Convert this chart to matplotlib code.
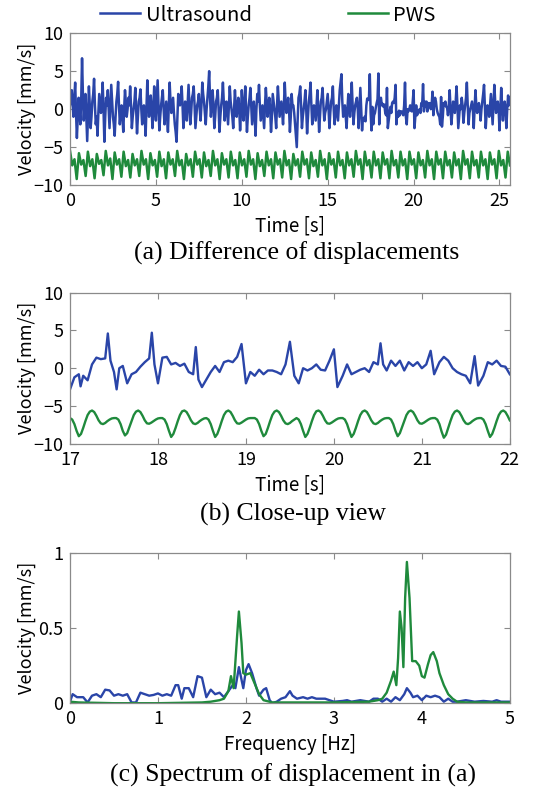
import numpy as np
from matplotlib import pyplot as plt

plt.rcParams['font.family'] = ['Noto Sans CJK JP', 'DejaVu Sans']

c_us = '#2a45a8'   # ultrasound (blue)
c_pws = '#1f8a3c'  # PWS (green)

# (a) full record, ultrasound sampled every 0.05 s (one row = 1 s)
us_a = [0.5, 1.2, 2.5, 0.8, -1.0, 1.5, 3.5, -0.5, -3.8, -1.0, 1.5, 0.0, -2.0, 1.0, 6.7, 2.0, -1.5, 0.5, 2.0, -1.0,
        -4.2, -0.5, 3.0, 0.5, -2.5, -1.0, 1.0, 2.0, 4.0, 0.5, -2.0, -1.0, -3.5, -0.5, 2.0, 0.8, -0.5, 1.0, 3.5, 0.0,
        -4.3, -1.0, 1.5, 0.5, 2.5, 0.0, -2.5, 0.5, 3.2, 1.0, -1.0, -2.0, -3.5, -1.0, 1.0, 2.0, 3.6, 0.5, -2.0, -0.5,
        0.5, -1.0, -3.0, 0.0, 2.5, 1.0, -1.0, 0.0, 1.5, 0.5, 3.0, 0.5, -2.5, -1.0, 0.0, 1.0, 2.8, 0.0, -3.2, -1.0,
        1.0, 1.5, 2.6, 0.0, -2.0, -0.5, 0.5, -1.0, -3.5, 0.0, 3.8, 1.0, -1.0, 0.5, 1.8, 0.0, -2.5, 0.0, 3.0, 0.5,
        -1.5, 1.0, 3.8, 0.5, -2.8, -1.0, 0.5, 1.5, 2.5, 0.0, -2.0, -0.5, 1.0, -1.0, -3.0, 0.5, 3.5, 1.0, -0.5, 0.5,
        1.5, -0.5, -2.0, -3.0, -4.3, -1.0, 2.0, 1.0, 0.5, 1.5, 3.0, 0.5, -2.5, -1.0, 1.0, 0.0, -1.5, 1.0, 3.2, 0.5,
        -2.0, -0.5, 1.5, 2.0, 3.0, 0.5, -2.5, -1.0, 0.5, 1.0, 2.0, 0.0, -1.5, 0.5, 3.5, 2.0, 1.0, -0.5, -2.0, 0.0,
        1.5, 3.0, 5.0, 1.5, -1.0, 0.5, 2.5, 0.5, -2.5, -1.0, 1.0, 1.5, 2.5, 0.0, -3.0, -1.0, 0.5, 1.5, 3.5, 1.0,
        -1.5, 0.0, 1.0, -0.5, -2.0, 0.5, 3.0, 1.0, 0.0, -1.0, -2.5, 0.0, 2.5, 0.5, -1.0, 0.5, 1.5, 0.0, -2.8, -0.5,
        2.5, 0.5, -1.5, 0.5, 3.0, 0.0, -3.0, -1.0, 0.5, 1.5, 2.8, 0.5, -2.0, -0.5, 1.0, -1.0, -3.5, 0.0, 2.0, 1.0,
        3.2, 0.5, -1.5, -0.5, 0.5, -1.0, -2.5, 0.5, 2.8, 1.0, -1.0, 0.5, 1.5, 0.0, -3.0, -1.0, 2.0, 1.0, 0.0, -1.0,
        -2.5, 0.5, 3.0, 1.0, -1.0, 0.0, 1.0, -0.5, -2.0, 0.5, 3.5, 1.0, -0.5, 0.5, 1.5, 0.0, -3.0, -1.0, 2.0, 0.5,
        0.5, -0.5, -2.0, -3.5, -5.0, -1.5, 1.5, 2.0, 3.0, 0.5, -2.5, -1.0, 0.0, 1.0, 2.5, 0.0, -3.2, -1.0, 1.0, 2.0,
        3.5, 0.5, -2.0, -0.5, 0.5, -0.5, -1.5, 0.5, 2.5, 0.0, -3.0, -1.0, 1.0, 1.5, 2.8, 0.5, -1.5, -0.5, 0.0, 1.0,
        2.0, 0.0, -2.5, -0.5, 1.0, 1.5, 3.0, 0.0, -2.0, -0.5, 0.5, -0.5, -1.5, 0.5, 2.5, 3.5, 4.6, 1.0, -1.0, 0.0,
        0.5, -1.0, -2.5, 0.0, 2.0, 0.5, -1.0, 1.0, 3.5, 0.5, -2.0, -0.5, 0.5, 1.0, 1.5, 0.0, -2.5, 0.0, 2.8, 0.0,
        -2.8, -1.2, -1.5, -1.0, -1.6, 0.5, 1.4, 1.2, 1.3, 4.6, -0.5, -2.8, 0.3, -2.0, -0.8, -0.5, 0.2, 0.8, 1.3, 4.7,
        -2.0, 1.4, 1.5, 0.5, 0.7, 0.3, 0.6, -0.5, -0.8, 2.8, -2.5, -1.5, -0.5, 0.3, -0.5, 0.8, 1.0, 0.8, 1.5, 3.2,
        -2.0, -0.5, -1.0, -0.2, -0.8, -0.3, -0.3, -0.5, -0.8, 0.5, 3.5, -1.0, -2.0, 0.0, -0.3, 0.0, 0.5, -0.2, -0.3, 1.0,
        2.5, -2.5, -1.0, 0.5, -0.8, -0.5, -0.2, 0.0, -0.5, 0.8, 0.5, 3.3, -0.3, 1.0, 0.3, 1.0, -0.3, 0.8, 0.3, 0.8,
        0.0, 0.5, 2.3, -0.8, 0.8, 1.5, 1.0, 0.0, -0.5, -0.8, -1.0, -2.0, 1.6, -2.3, -1.0, 0.8, 0.5, 1.0, 0.3, 0.2,
        -0.8, 0.5, 2.5, 0.0, -2.0, -0.5, 1.0, 0.0, -0.5, 1.0, 3.0, 0.5, -2.5, -1.0, 0.5, 0.0, 1.5, 0.5, -1.8, -0.5,
        0.5, 1.5, 3.5, 0.5, -2.0, -0.5, 0.0, 0.5, 1.0, 0.0, -2.5, 0.0, 2.5, 0.5, -0.5, 0.5, 0.8, 0.0, -1.5, 0.0,
        1.0, 2.0, 3.2, 0.5, -2.5, -0.5, 0.5, 0.0, -1.0, 0.5, 2.0, 0.0, -2.0, 0.5, 3.2, 1.0, -0.5, 0.0, 1.0, 0.0,
        -2.8, 0.0, 2.8, 0.5, -1.5, 0.0, 1.0, 0.0, -2.5, 0.0, 1.8, 0.5, 1.5]

# (a) PWS sampled every 0.13 s: peak, dip, plateau, trough
pws_a = [-5.5, -7.4, -6.6, -9.2, -5.8, -7.3, -6.7, -8.8,
         -5.6, -7.5, -6.6, -9.1, -5.9, -7.2, -6.7, -8.7,
         -5.5, -7.4, -6.5, -9.2, -5.7, -7.3, -6.6, -8.9,
         -5.6, -7.5, -6.7, -9.0, -5.9, -7.4, -6.6, -8.8,
         -5.5, -7.3, -6.6, -9.2, -5.8, -7.4, -6.7, -8.9,
         -5.6, -7.5, -6.6, -9.1, -5.7, -7.3, -6.6, -8.8,
         -5.5, -7.4, -6.7, -9.2, -5.9, -7.4, -6.6, -8.9,
         -5.6, -7.3, -6.6, -9.0, -5.7, -7.5, -6.7, -8.8,
         -5.5, -7.4, -6.6, -9.2, -5.8, -7.3, -6.6, -9.0,
         -5.6, -7.4, -6.7, -9.1, -5.7, -7.4, -6.6, -8.9,
         -5.5, -7.3, -6.6, -9.2, -5.8, -7.5, -6.7, -8.8,
         -5.6, -7.4, -6.6, -9.1, -5.7, -7.3, -6.6, -9.0,
         -5.5, -7.4, -6.7, -9.2, -5.9, -7.4, -6.6, -8.9,
         -5.6, -7.3, -6.6, -9.1, -5.7, -7.5, -6.7, -8.9,
         -5.5, -7.4, -6.6, -9.2, -5.8, -7.3, -6.6, -9.0,
         -5.6, -7.4, -6.7, -9.1, -5.7, -7.4, -6.6, -8.9,
         -5.5, -7.3, -6.6, -9.2, -5.6, -7.4, -6.7, -9.0,
         -5.6, -7.4, -6.6, -9.1, -5.7, -7.3, -6.6, -9.1,
         -5.5, -7.4, -6.7, -9.0, -5.6, -7.4, -6.6, -9.2,
         -5.6, -7.3, -6.6, -9.1, -5.7, -7.4, -6.7, -9.0,
         -5.5, -7.4, -6.6, -9.2, -5.6, -7.3, -6.6, -9.1,
         -5.6, -7.4, -6.7, -9.0, -5.7, -7.4, -6.6, -9.2,
         -5.5, -7.3, -6.6, -9.1, -5.6, -7.4, -6.7, -9.0,
         -5.6, -7.4, -6.6, -9.2, -5.7, -7.3, -6.6, -9.1,
         -5.5, -7.4, -6.7, -9.0, -5.6, -7.4]

# (b) close-up 17-22 s, ultrasound
t_b_us = [17.00, 17.05, 17.10, 17.12, 17.15, 17.20, 17.25, 17.30, 17.35, 17.40,
          17.43, 17.46, 17.50, 17.53, 17.56, 17.60, 17.65, 17.70, 17.75, 17.80,
          17.85, 17.90, 17.93, 17.96, 18.00, 18.05, 18.10, 18.15, 18.20, 18.25,
          18.30, 18.35, 18.40, 18.43, 18.46, 18.50, 18.55, 18.60, 18.65, 18.70,
          18.75, 18.80, 18.85, 18.90, 18.95, 19.00, 19.05, 19.10, 19.15, 19.20,
          19.25, 19.30, 19.35, 19.40, 19.45, 19.50, 19.55, 19.60, 19.65, 19.70,
          19.75, 19.80, 19.85, 19.90, 19.95, 20.00, 20.04, 20.10, 20.15, 20.20,
          20.25, 20.30, 20.35, 20.40, 20.45, 20.50, 20.53, 20.56, 20.60, 20.65,
          20.70, 20.75, 20.80, 20.85, 20.90, 20.95, 21.00, 21.05, 21.10, 21.14,
          21.20, 21.25, 21.30, 21.35, 21.40, 21.45, 21.50, 21.55, 21.60, 21.64,
          21.70, 21.75, 21.80, 21.85, 21.90, 21.95, 22.00]
us_b = [-2.8, -1.2, -0.8, -2.4, -1.0, -1.6, 0.5, 1.4, 1.2, 1.3,
        4.6, 1.0, -0.5, -2.8, 0.0, 0.3, -2.0, -0.8, -0.5, 0.2,
        0.8, 1.3, 4.7, 0.5, -2.0, 1.4, 1.5, 0.5, 0.7, 0.3,
        0.6, -0.5, -0.8, 2.8, -1.5, -2.5, -1.5, -0.5, 0.3, -0.5,
        0.8, 1.0, 0.8, 1.5, 3.2, -2.0, -0.5, -1.0, -0.2, -0.8,
        -0.3, -0.3, -0.5, -0.8, 0.5, 3.5, -1.0, -2.0, 0.0, -0.3,
        0.0, 0.5, -0.2, -0.3, 1.0, 2.5, -2.5, -1.0, 0.5, -0.8,
        -0.5, -0.2, 0.0, -0.5, 0.8, 0.5, 3.3, 0.5, -0.3, 1.0,
        0.3, 1.0, -0.3, 0.8, 0.3, 0.8, 0.0, 0.5, 2.3, -0.8,
        0.8, 1.5, 1.0, 0.0, -0.5, -0.8, -1.0, -2.0, 1.6, -2.3,
        -1.0, 0.8, 0.5, 1.0, 0.3, 0.2, -0.8]

# (b) close-up, PWS sampled every 0.025 s
pws_b = [-6.6, -6.8, -7.4, -8.3,
         -9.0, -8.7, -7.9, -7.0, -6.2, -5.75, -5.6, -5.8, -6.3, -6.9, -7.3,
         -7.4, -7.25, -7.0, -6.8, -6.65, -6.6, -6.6, -6.8, -7.4, -8.3,
         -8.9, -8.6, -7.8, -7.0, -6.2, -5.75, -5.6, -5.8, -6.3, -6.9, -7.3,
         -7.35, -7.2, -7.0, -6.8, -6.65, -6.6, -6.6, -6.8, -7.4, -8.3,
         -9.1, -8.7, -7.9, -7.0, -6.2, -5.7, -5.6, -5.8, -6.3, -6.9, -7.3,
         -7.4, -7.25, -7.0, -6.8, -6.65, -6.6, -6.8, -7.4, -8.3,
         -9.1, -8.7, -7.9, -7.0, -6.2, -5.75, -5.6, -5.8, -6.3, -6.9, -7.3,
         -7.35, -7.2, -7.0, -6.8, -6.65, -6.6, -6.6, -6.6, -6.8, -7.4, -8.3,
         -9.0, -8.7, -7.9, -7.0, -6.2, -5.75, -5.6, -5.8, -6.3, -6.9, -7.3,
         -7.4, -7.25, -7.0, -6.8, -6.6, -6.8, -7.4, -8.3,
         -9.1, -8.7, -7.9, -7.0, -6.2, -5.7, -5.6, -5.8, -6.3, -6.9, -7.3,
         -7.35, -7.2, -7.0, -6.8, -6.65, -6.6, -6.6, -6.8, -7.4, -8.3,
         -9.1, -8.7, -7.9, -7.0, -6.2, -5.75, -5.6, -5.8, -6.3, -6.9, -7.3,
         -7.4, -7.25, -7.0, -6.8, -6.65, -6.6, -6.6, -6.8, -7.4, -8.3,
         -9.0, -8.6, -7.8, -7.0, -6.2, -5.75, -5.6, -5.8, -6.3, -6.9, -7.3,
         -7.35, -7.2, -7.0, -6.8, -6.65, -6.6, -6.6, -6.8, -7.4, -8.4,
         -9.2, -8.8, -7.9, -7.0, -6.2, -5.75, -5.6, -5.8, -6.3, -6.9, -7.3,
         -7.4, -7.25, -7.0, -6.8, -6.65, -6.6, -6.6, -6.8, -7.4, -8.3,
         -9.1, -8.7, -7.9, -7.0, -6.2, -5.75, -5.6, -5.8, -6.3, -6.9]

# (c) spectrum
f_us = [0.00, 0.03, 0.08, 0.15, 0.20, 0.25, 0.30, 0.35, 0.40, 0.45,
        0.50, 0.55, 0.60, 0.65, 0.70, 0.75, 0.80, 0.85, 0.90, 0.95,
        1.00, 1.05, 1.10, 1.15, 1.20, 1.23, 1.27, 1.30, 1.35, 1.40,
        1.45, 1.50, 1.55, 1.60, 1.65, 1.70, 1.75, 1.80, 1.85, 1.88,
        1.92, 1.97, 2.00, 2.03, 2.07, 2.12, 2.15, 2.20, 2.23, 2.27,
        2.30, 2.35, 2.40, 2.45, 2.50, 2.53, 2.58, 2.65, 2.70, 2.75,
        2.80, 2.90, 2.95, 3.00, 3.10, 3.15, 3.20, 3.30, 3.40, 3.45,
        3.50, 3.55, 3.60, 3.65, 3.70, 3.75, 3.80, 3.83, 3.87, 3.90,
        3.95, 4.00, 4.05, 4.10, 4.15, 4.20, 4.25, 4.30, 4.35, 4.40,
        4.50, 4.60, 4.70, 4.80, 4.85, 4.90, 5.00]
spec_us = [0.01, 0.06, 0.04, 0.04, 0.005, 0.05, 0.06, 0.04, 0.09, 0.085,
           0.05, 0.06, 0.05, 0.06, 0.005, 0.005, 0.07, 0.06, 0.05, 0.055,
           0.065, 0.05, 0.06, 0.05, 0.12, 0.12, 0.03, 0.10, 0.10, 0.04,
           0.18, 0.17, 0.04, 0.09, 0.06, 0.07, 0.04, 0.08, 0.12, 0.10,
           0.24, 0.10, 0.22, 0.26, 0.20, 0.10, 0.05, 0.09, 0.10, 0.02,
           0.0, 0.01, 0.03, 0.04, 0.08, 0.05, 0.03, 0.04, 0.03, 0.04,
           0.03, 0.03, 0.02, 0.01, 0.015, 0.02, 0.01, 0.02, 0.01, 0.03,
           0.03, 0.01, 0.03, 0.01, 0.04, 0.02, 0.06, 0.10, 0.07, 0.04,
           0.05, 0.02, 0.05, 0.04, 0.05, 0.04, 0.01, 0.03, 0.01, 0.01,
           0.02, 0.01, 0.015, 0.01, 0.02, 0.01, 0.01]

f_pws = [0.00, 0.10, 0.50, 1.00, 1.50, 1.60, 1.70, 1.75, 1.80, 1.83,
         1.86, 1.90, 1.92, 1.95, 1.97, 2.00, 2.05, 2.10, 2.15, 2.20,
         2.30, 2.50, 3.00, 3.40, 3.50, 3.55, 3.60, 3.65, 3.68, 3.71,
         3.73, 3.75, 3.77, 3.79, 3.81, 3.83, 3.86, 3.89, 3.93, 3.97,
         4.00, 4.03, 4.07, 4.10, 4.13, 4.17, 4.20, 4.25, 4.30, 4.35,
         4.40, 4.50, 4.70, 5.00]
spec_pws = [0.01, 0.005, 0.0, 0.0, 0.005, 0.01, 0.02, 0.03, 0.08, 0.18,
            0.10, 0.45, 0.61, 0.40, 0.20, 0.19, 0.20, 0.13, 0.06, 0.02,
            0.005, 0.005, 0.005, 0.01, 0.02, 0.03, 0.07, 0.15, 0.21, 0.12,
            0.30, 0.61, 0.50, 0.24, 0.70, 0.94, 0.70, 0.28, 0.28, 0.25,
            0.18, 0.17, 0.26, 0.32, 0.34, 0.28, 0.20, 0.12, 0.06, 0.03,
            0.01, 0.005, 0.005, 0.005]

t_a_us = np.arange(len(us_a)) * 0.05
t_a_pws = np.arange(len(pws_a)) * 0.13
t_b_pws = 17 + np.arange(len(pws_b)) * 0.025

fig = plt.figure(figsize=(5.47, 7.91), dpi=100)
left, width = 0.128, 0.804
ax_a = fig.add_axes([left, 0.766, width, 0.192])
ax_b = fig.add_axes([left, 0.439, width, 0.191])
ax_c = fig.add_axes([left, 0.111, width, 0.190])

def style(ax):
    for s in ax.spines.values():
        s.set_color('#8a8a8a')
        s.set_linewidth(0.9)
    ax.tick_params(direction='in', length=4, width=0.8, color='#8a8a8a',
                   top=True, right=True, labelsize=13, pad=5)
    ax.yaxis.set_label_coords(-0.078, 0.5)

lw = 1.7
l1, = ax_a.plot(t_a_us, us_a, color=c_us, lw=1.8, label='Ultrasound')
l2, = ax_a.plot(t_a_pws, pws_a, color=c_pws, lw=1.8, label='PWS')
ax_a.set_xlim(0, 25.6)
ax_a.set_ylim(-10, 10)
ax_a.set_xticks([0, 5, 10, 15, 20, 25])
ax_a.set_yticks([-10, -5, 0, 5, 10])
ax_a.set_xlabel('Time [s]', fontsize=13.5, labelpad=4)
ax_a.set_ylabel('Velocity [mm/s]', fontsize=13)

ax_b.plot(t_b_us, us_b, color=c_us, lw=lw)
ax_b.plot(t_b_pws, pws_b, color=c_pws, lw=lw)
ax_b.set_xlim(17, 22)
ax_b.set_ylim(-10, 10)
ax_b.set_xticks([17, 18, 19, 20, 21, 22])
ax_b.set_yticks([-10, -5, 0, 5, 10])
ax_b.set_xlabel('Time [s]', fontsize=13.5, labelpad=4)
ax_b.set_ylabel('Velocity [mm/s]', fontsize=13)

ax_c.plot(f_us, spec_us, color=c_us, lw=lw)
ax_c.plot(f_pws, spec_pws, color=c_pws, lw=lw)
ax_c.set_xlim(0, 5)
ax_c.set_ylim(0, 1)
ax_c.set_xticks([0, 1, 2, 3, 4, 5])
ax_c.set_yticks([0, 0.5, 1])
ax_c.set_yticklabels(['0', '0.5', '1'])
ax_c.set_xlabel('Frequency [Hz]', fontsize=13.5, labelpad=4)
ax_c.set_ylabel('Velocity [mm/s]', fontsize=13)

for ax in (ax_a, ax_b, ax_c):
    style(ax)

fig.legend(handles=[l1, l2], loc='center', bbox_to_anchor=(0.49, 0.981),
           ncol=2, frameon=False, fontsize=14.5, handlelength=2.0,
           handletextpad=0.25, columnspacing=4.8, borderaxespad=0)

cap = dict(ha='center', va='center', fontsize=18.5, family='Liberation Serif')
fig.text(0.542, 0.680, '(a) Difference of displacements', **cap)
fig.text(0.535, 0.349, '(b) Close-up view', **cap)
fig.text(0.535, 0.020, '(c) Spectrum of displacement in (a)', **cap)

fig.savefig('out.png', dpi=100)
